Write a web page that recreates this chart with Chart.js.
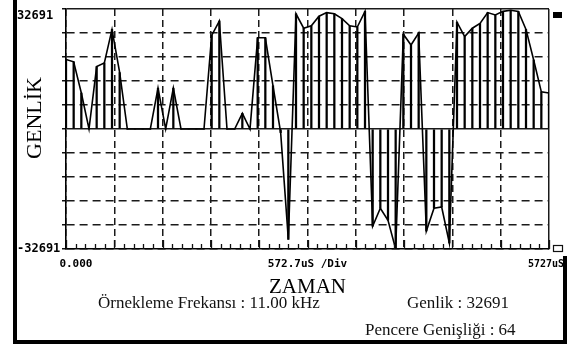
<!DOCTYPE html>
<html>
<head>
<meta charset="utf-8">
<script src="https://cdn.jsdelivr.net/npm/chart.js@4.4.1/dist/chart.umd.min.js"></script>
<style>
    body { margin: 0; background: #fff; }
    #wrap { position: relative; width: 571px; height: 349px; overflow: hidden; background: #fff; }
    #box { position: absolute; left: 0; top: 0; width: 571px; height: 349px; }
    .edge { position: absolute; background: #000; }
    .info { position: absolute; font-family: "Liberation Serif", serif; font-size: 17px; line-height: 17px; color: #111; white-space: nowrap; }
</style>
</head>
<body>
<div id="wrap">
    <div id="box"><canvas id="scopeChart"></canvas></div>
    <div class="edge" style="left:13px; top:0; width:4px; height:344px;"></div>
    <div class="edge" style="left:13px; top:340px; width:554px; height:4px;"></div>
    <div class="edge" style="left:563px; top:256px; width:4px; height:88px;"></div>
    <div class="info" style="left:98px; top:294px;">Örnekleme Frekansı : 11.00 kHz</div>
    <div class="info" style="left:407px; top:294px;">Genlik : 32691</div>
    <div class="info" style="left:365px; top:321px;">Pencere Genişliği : 64</div>
</div>
<script>
// ölçülen örnekler (64 adet), genlik değerleri
const sampleValues = [
    18960, 18310, 9810, 0, 17000, 17980, 27130, 15360,
    0, 0, 0, 0, 11120, 0, 11120, 0,
    0, 0, 0, 25500, 29420, 0, 0, 4250,
    0, 24850, 24850, 11770, -980, -30080, 31380, 27460,
    28110, 30730, 31710, 31380, 30080, 28110, 27790, 32040,
    -26480, -21580, -24850, -32691, 25830, 22880, 26150, -27790,
    -21580, -21250, -31060, 29100, 25170, 27460, 28770, 31710,
    31060, 32040, 32360, 32040, 27130, 18800, 10130, 9810
];

const fullScale = 32691;         // Genlik
const timeSpanUs = 5727;         // ekran genişliği (uS)
const timePerDivUs = 572.7;      // uS /Div
const ampPerDiv = fullScale / 5;

const xTickLabels = { 0: '   0.000', 5: '572.7uS /Div', 10: '5727uS ' };
const yTickLabels = ['-32691', '32691'];

// örnek zamanları (uS)
const sampleTimes = sampleValues.map((v, i) => i * timeSpanUs / (sampleValues.length - 1));
const points = sampleValues.map((v, i) => ({ x: sampleTimes[i], y: v }));

// alt eksende küçük çentikler + sağdaki işaretler
const scopeMarks = {
    id: 'scopeMarks',
    afterDraw(chart) {
        const { ctx, chartArea } = chart;
        const xs = chart.scales.x;
        ctx.save();
        ctx.strokeStyle = '#111';
        ctx.lineWidth = 1.3;
        ctx.beginPath();
        for (let k = 0; k <= 50; k++) {
            const px = Math.round(xs.getPixelForValue(k * timePerDivUs / 5)) + 0.5;
            const len = k % 5 === 0 ? 9 : 5;
            ctx.moveTo(px, chartArea.bottom);
            ctx.lineTo(px, chartArea.bottom - len);
        }
        ctx.stroke();

        // imleç işaretleri
        ctx.fillStyle = '#000';
        ctx.fillRect(chartArea.right + 4, chartArea.top + 3, 9, 6);
        ctx.lineWidth = 1.2;
        ctx.strokeRect(chartArea.right + 4.5, chartArea.bottom - 3.5, 9, 6);
        ctx.restore();
    }
};

new Chart(document.getElementById('scopeChart'), {
    type: 'line',
    data: {
        datasets: [
            {
                type: 'line',
                data: points,
                borderColor: '#000',
                borderWidth: 1.6,
                pointRadius: 0,
                tension: 0,
                fill: false,
                order: 0
            },
            {
                type: 'bar',
                data: points,
                backgroundColor: '#000',
                barThickness: 1.6,
                order: 1
            }
        ]
    },
    options: {
        responsive: true,
        maintainAspectRatio: false,
        animation: false,
        layout: { padding: { left: 17, top: 9, right: 22, bottom: 0 } },
        plugins: {
            legend: { display: false },
            tooltip: { enabled: false }
        },
        scales: {
            x: {
                type: 'linear',
                min: 0,
                max: timeSpanUs,
                offset: false,
                afterFit: (scale) => {
                    scale.height = 100;
                    // kenar etiketleri grafiği daraltmasın
                    scale.paddingLeft = 0;
                    scale.paddingRight = 0;
                },
                grid: {
                    offset: false,
                    color: '#1a1a1a',
                    lineWidth: 1.5,
                    drawTicks: false
                },
                border: {
                    color: '#000',
                    width: 1.6,
                    dash: (ctx) => (ctx.index === 10 ? [] : [7, 4])
                },
                ticks: {
                    stepSize: timePerDivUs,
                    autoSkip: false,
                    maxRotation: 0,
                    padding: 1,
                    color: '#000',
                    // büyük satır yüksekliği etiketi aşağı iter
                    font: (ctx) => ({
                        family: 'DejaVu Sans Mono',
                        size: ctx.index === 10 ? 10 : 11,
                        weight: 'bold',
                        lineHeight: '29px'
                    }),
                    callback: (value, index) => xTickLabels[index] || ''
                },
                title: {
                    display: true,
                    text: 'ZAMAN',
                    color: '#000',
                    font: { family: 'Liberation Serif', size: 21 },
                    padding: { top: 0, bottom: 49 }
                }
            },
            y: {
                min: -fullScale,
                max: fullScale,
                afterFit: (scale) => {
                    scale.width = 49;
                    scale.paddingTop = 0;
                    scale.paddingBottom = 0;
                },
                grid: {
                    color: '#1a1a1a',
                    lineWidth: 1.5,
                    tickLength: 4,
                    tickColor: '#111'
                },
                border: {
                    color: '#000',
                    width: 1.6,
                    dash: (ctx) => (ctx.tick && (ctx.tick.value === 0 || ctx.index === 10) ? [] : [8, 5])
                },
                ticks: {
                    stepSize: ampPerDiv,
                    autoSkip: false,
                    crossAlign: 'far',
                    padding: 0,
                    color: '#000',
                    font: { family: 'DejaVu Sans Mono', size: 12, weight: 'bold', lineHeight: '14px' },
                    callback: (value, index, ticks) => {
                        if (index === 0) return yTickLabels[0];
                        // üst etiket çizginin biraz altında duruyor
                        if (index === ticks.length - 1) return ['', yTickLabels[1]];
                        return '';
                    }
                },
                title: {
                    display: true,
                    text: '    GENLİK',
                    color: '#000',
                    font: { family: 'Liberation Serif', size: 22 },
                    padding: { top: 5, bottom: 0 }
                }
            }
        }
    },
    plugins: [scopeMarks]
});
</script>
</body>
</html>
